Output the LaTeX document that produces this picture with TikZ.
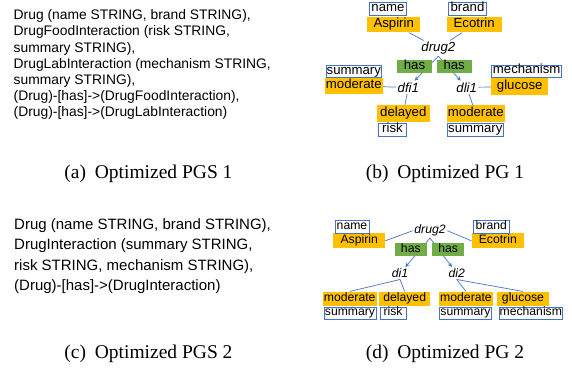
\documentclass[tikz,border=0pt]{standalone}
\usepackage{fontspec}
\setmainfont{Liberation Serif}
\newfontfamily\gsans{Liberation Sans}
\usetikzlibrary{arrows.meta}
\definecolor{bl}{HTML}{4472C4}
\definecolor{orng}{HTML}{FFC000}
\definecolor{grn}{HTML}{70AD47}
\begin{document}
\begin{tikzpicture}[x=1pt,y=-1pt,
  lbl/.style={draw=bl, line width=0.8pt, fill=white, inner sep=0pt, text height=0.72em, text depth=0.2em, font=\gsans\fontsize{\gsz}{\gsz}\selectfont},
  val/.style={fill=orng, inner sep=0pt, text height=0.72em, text depth=0.2em, font=\gsans\fontsize{\gsz}{\gsz}\selectfont},
  rel/.style={fill=grn, inner sep=0pt, text height=0.72em, text depth=0.2em, font=\gsans\fontsize{\gsz}{\gsz}\selectfont},
  var/.style={inner sep=1.5pt, font=\gsans\itshape\fontsize{\gsz}{\gsz}\selectfont},
  edge/.style={draw=bl, line width=0.7pt},
  arr/.style={edge, -{Stealth[length=4.5pt,width=4pt]}},
  schema/.style={anchor=north west, align=left, inner sep=0pt},
  captxt/.style={font=\fontsize{19.5}{21}\selectfont, inner sep=0pt, anchor=base}
]
\useasboundingbox (0,0) rectangle (572,370);

% ---------- (a) schema text ----------
\node[schema, font=\gsans\fontsize{13.85}{16.2}\selectfont] (pgs1) at (13.5,9.5)
 {Drug (name STRING, brand STRING),\\
  DrugFoodInteraction (risk STRING,\\
  summary STRING),\\
  DrugLabInteraction (mechanism STRING,\\
  summary STRING),\\
  (Drug)-[has]->(DrugFoodInteraction),\\
  (Drug)-[has]->(DrugLabInteraction)};

% ---------- (c) schema text ----------
\node[schema, font=\gsans\fontsize{15}{20.5}\selectfont] (pgs2) at (14,218)
 {Drug (name STRING, brand STRING),\\
  DrugInteraction (summary STRING,\\
  risk STRING, mechanism STRING),\\
  (Drug)-[has]->(DrugInteraction)};

% ---------- captions ----------
\node[captxt] (capa) at (148.5,178) {(a)\hspace{0.45em}Optimized PGS 1};
\node[captxt] (capb) at (445,178) {(b)\hspace{0.45em}Optimized PG 1};
\node[captxt] (capc) at (148.5,358) {(c)\hspace{0.45em}Optimized PGS 2};
\node[captxt] (capd) at (445,358) {(d)\hspace{0.45em}Optimized PG 2};

% ---------- (b) graph ----------
\begin{scope}
\def\gsz{13.2}
\node[val, minimum width=52.7pt, minimum height=15.8pt] (asp1) at (393.7,24.5) {Aspirin};
\node[lbl, minimum width=37.4pt, minimum height=13pt] (name1) at (388,9.3) {name};
\node[val, minimum width=55pt, minimum height=15.8pt] (eco1) at (474.2,24.5) {Ecotrin};
\node[lbl, minimum width=38.4pt, minimum height=13pt] (brand1) at (467.5,9.3) {brand};
\node[var] (drugb) at (438.3,48.3) {drug2};
\node[var] (dfi) at (408.3,87.3) {dfi1};
\node[var] (dli) at (466.7,87.3) {dli1};
\node[val, minimum width=57.7pt, minimum height=15.8pt] (modb1) at (353.8,86.2) {moderate};
\node[lbl, minimum width=55.7pt, minimum height=12pt] (sumb1) at (353.8,71.5) {summary};
\node[val, minimum width=57.3pt, minimum height=16.5pt] (glu1) at (519.7,86.7) {glucose};
\node[lbl, minimum width=70pt, minimum height=12.3pt] (mech1) at (526.7,71.2) {mechanism};
\node[val, minimum width=53.3pt, minimum height=17pt] (del1) at (403.3,113.8) {delayed};
\node[lbl, minimum width=28.4pt, minimum height=12.7pt] (risk1) at (392.5,129.7) {risk};
\node[val, minimum width=58.3pt, minimum height=17pt] (modb2) at (475.8,113.8) {moderate};
\node[lbl, minimum width=56pt, minimum height=12.7pt] (sumb2) at (475.3,129.7) {summary};
\draw[edge] (asp1) -- (drugb);
\draw[edge] (eco1) -- (drugb);
\draw[arr] (drugb.south) -- (dfi);
\draw[arr] (drugb.south) -- (dli);
\draw[edge] (modb1) -- (dfi);
\draw[edge] (dli) -- (glu1);
\draw[edge] (dfi) -- (del1);
\draw[edge] (dli) -- (modb2);
\node[rel, minimum width=34.4pt, minimum height=13.3pt] (hasb1) at (414.5,66.7) {has};
\node[rel, minimum width=35pt, minimum height=13.3pt] (hasb2) at (454.2,66.7) {has};
\end{scope}

% ---------- (d) graph ----------
\begin{scope}
\def\gsz{12.2}
\node[val, minimum width=51.7pt, minimum height=15pt] (asp2) at (359.2,240.8) {Aspirin};
\node[lbl, minimum width=34pt, minimum height=12.6pt] (name2) at (352,227) {name};
\node[var] (drugd) at (430,230.7) {drug2};
\node[val, minimum width=52.3pt, minimum height=15pt] (eco2) at (497.8,240.8) {Ecotrin};
\node[lbl, minimum width=36pt, minimum height=12.6pt] (brand2) at (491.3,227) {brand};
\node[var] (di1) at (400,273.3) {di1};
\node[var] (di2) at (456.7,273.3) {di2};
\node[val, minimum width=54pt, minimum height=14.3pt] (modd1) at (349.7,298.8) {moderate};
\node[lbl, minimum width=52pt, minimum height=12pt] (sumd1) at (350,313.3) {summary};
\node[val, minimum width=50.7pt, minimum height=14.3pt] (del2) at (404.7,298.8) {delayed};
\node[lbl, minimum width=26pt, minimum height=12pt] (risk2) at (393,313.3) {risk};
\node[val, minimum width=53.4pt, minimum height=14.3pt] (modd2) at (466,298.8) {moderate};
\node[lbl, minimum width=52.4pt, minimum height=12pt] (sumd2) at (465.5,313.3) {summary};
\node[val, minimum width=52.6pt, minimum height=14.3pt] (glu2) at (523,298.8) {glucose};
\node[lbl, minimum width=63.7pt, minimum height=12pt] (mech2) at (530.8,313.3) {mechanism};
\draw[edge] (asp2.east) -- (drugd.west);
\draw[edge] (drugd.east) -- (eco2.west);
\draw[arr] (drugd.south) -- (di1);
\draw[arr] (drugd.south) -- (di2);
\draw[edge] (di1.south) -- (modd1.north);
\draw[edge] (di1.south) -- (del2.north);
\draw[edge] (di2.south) -- (modd2.north);
\draw[edge] (di2.south) -- (glu2.north);
\node[rel, minimum width=31.7pt, minimum height=12.7pt] (hasd1) at (410.8,249.7) {has};
\node[rel, minimum width=31.7pt, minimum height=12.7pt] (hasd2) at (448.2,249.7) {has};
\end{scope}
\end{tikzpicture}
\end{document}
